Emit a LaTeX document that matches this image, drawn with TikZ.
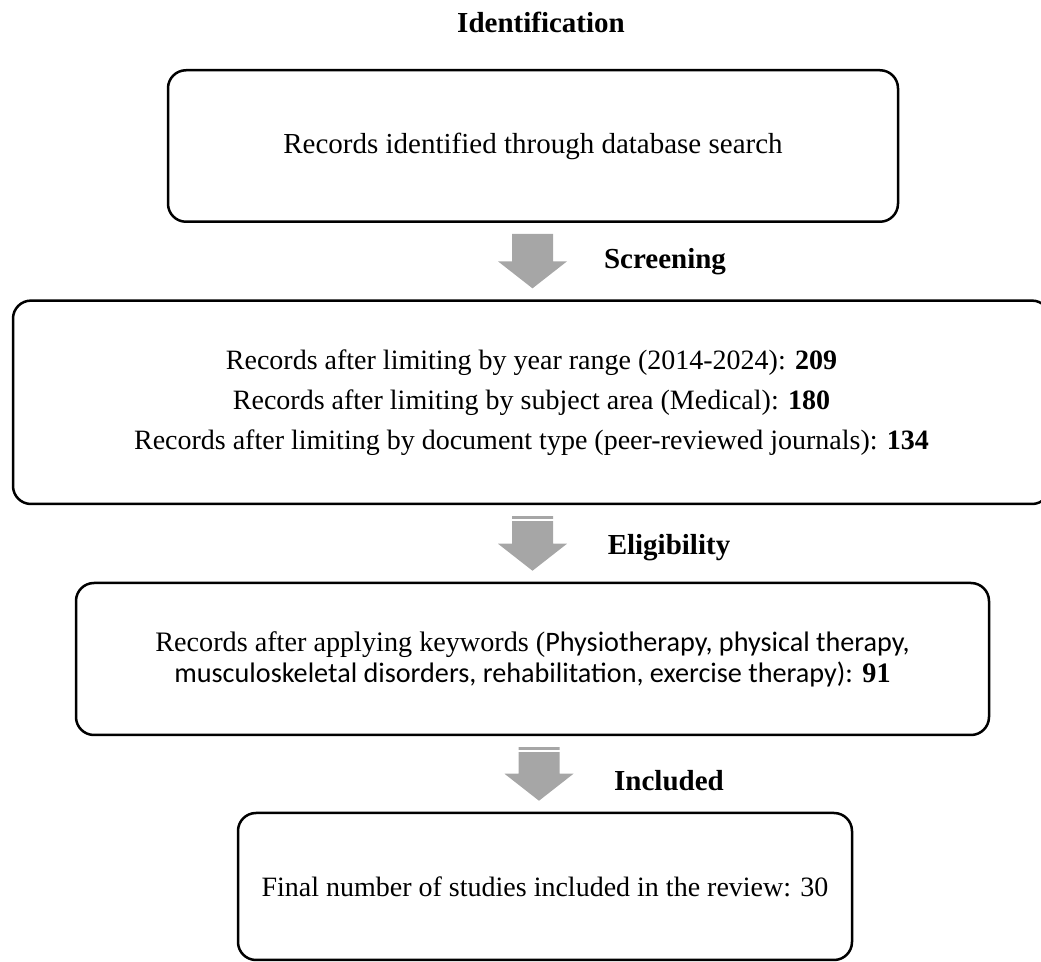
\documentclass[tikz,border=0pt]{standalone}
\usepackage{fontspec}
\setmainfont{Liberation Serif}
\newfontfamily\calibri{Carlito}
\usetikzlibrary{calc}

\definecolor{arrgray}{RGB}{166,166,166}
\tikzset{
  stage/.style={font=\fontsize{14.5}{17}\selectfont\bfseries},
  recbox/.style={draw,line width=1.25pt,rounded corners=9pt,align=center,inner sep=0pt,font=\fontsize{14}{20}\selectfont},
}
% block arrow from box #1 down to box #2, shifted by #3
\newcommand\flowarrow[3]{%
  \coordinate(#1top)at($(#1.south)+(#3,11)$);
  \coordinate(#1tip)at($(#2.north -| #1top)+(0,-11)$);
  \fill[arrgray]($(#1top)+(-20.5,0)$)--($(#1top)+(20.5,0)$)--($(#1tip)+(20.5,-27)$)--($(#1tip)+(34.5,-27)$)--(#1tip)--($(#1tip)+(-34.5,-27)$)--($(#1tip)+(-20.5,-27)$)--cycle;}

\begin{document}
\begin{tikzpicture}[x=0.5pt,y=-0.5pt]
\useasboundingbox(0,0)rectangle(1041,962);\clip(0,0)rectangle(1041,962);
\node[stage](idf)at(541,22){Identification};
\node[recbox,minimum width=365pt,minimum height=75.75pt,font=\fontsize{14.5}{17}\selectfont](b1)at(533,146){Records identified through database search};
\node[stage](scr)at(665,262){Screening};
\node[recbox,minimum width=518.5pt,minimum height=101.7pt](b2)at(531.5,402.3){Records after limiting by year range (2014-2024): \textbf{209}\\Records after limiting by subject area (Medical): \textbf{180}\\Records after limiting by document type (peer-reviewed journals): \textbf{134}};
\node[stage](elg)at(669,548){Eligibility};
\node[recbox,minimum width=456.5pt,minimum height=76pt,font=\fontsize{14.1}{15.5}\selectfont](b3)at(532.5,659){Records after applying keywords ({\calibri Physiotherapy, physical therapy,}\\{\calibri musculoskeletal disorders, rehabilitation, exercise therapy):} \textbf{91}};
\node[stage](inc)at(669,781){Included};
\node[recbox,minimum width=307pt,minimum height=73.5pt](b4)at(545,886.5){Final number of studies included in the review: 30};
\flowarrow{b1}{b2}{-0.5}\flowarrow{b2}{b3}{1}\flowarrow{b3}{b4}{6.5}
\draw[white,line width=1.2pt]($(b2top)+(-21,3.5)$)--($(b2top)+(21,3.5)$);
\draw[white,line width=1.2pt]($(b3top)+(-21,3.5)$)--($(b3top)+(21,3.5)$);
\end{tikzpicture}
\end{document}
